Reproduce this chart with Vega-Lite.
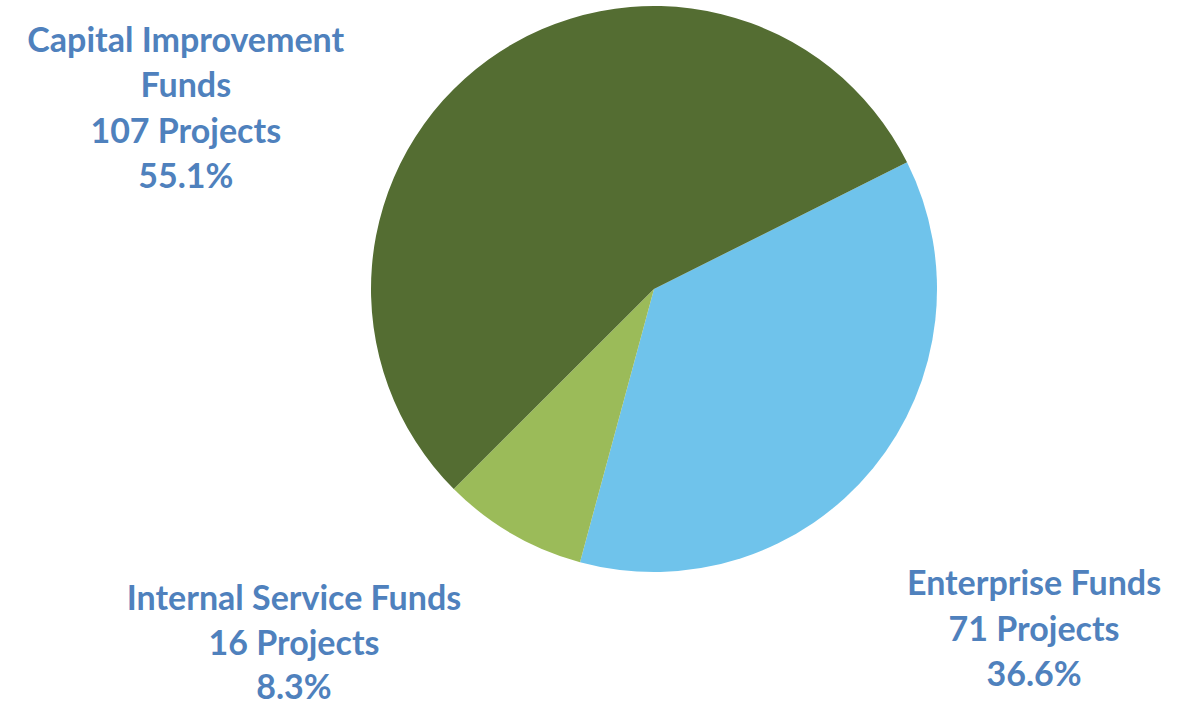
{
  "$schema": "https://vega.github.io/schema/vega-lite/v6.json",
  "width": 1000,
  "height": 578,
  "autosize": {"type": "none"},
  "padding": {"left": 154, "top": 0, "right": 41, "bottom": 129},
  "background": "white",
  "config": {"view": {"stroke": null}},
  "data": {
    "values": [
      {"fund": "Enterprise Funds", "projects": 71, "share": 36.6, "label": "Enterprise Funds\n71 Projects\n36.6%"},
      {"fund": "Internal Service Funds", "projects": 16, "share": 8.3, "label": "Internal Service Funds\n16 Projects\n8.3%"},
      {"fund": "Capital Improvement Funds", "projects": 107, "share": 55.1, "label": "Capital Improvement\nFunds\n107 Projects\n55.1%"}
    ]
  },
  "transform": [{"stack": "share", "groupby": [], "as": ["s0", "s1"]}],
  "layer": [
    {
      "mark": {"type": "arc", "outerRadius": 283},
      "encoding": {
        "theta": {"field": "s0", "type": "quantitative", "stack": null, "scale": {"domain": [0, 100], "range": [1.1065, 7.3897]}},
        "theta2": {"field": "s1"},
        "color": {
          "field": "fund",
          "type": "nominal",
          "scale": {
            "domain": ["Enterprise Funds", "Internal Service Funds", "Capital Improvement Funds"],
            "range": ["#6FC3EB", "#9BBB59", "#546D32"]
          },
          "legend": null
        }
      }
    },
    {
      "transform": [{"filter": "datum.fund === 'Enterprise Funds'"}],
      "mark": {"type": "text", "radius": 283, "dx": 127, "dy": 433, "align": "center", "baseline": "alphabetic", "lineBreak": "\n", "lineHeight": 45.5, "font": "Lato", "fontWeight": "bold", "fontSize": 34, "color": "#4F81BD"},
      "encoding": {
        "theta": {"field": "s0", "type": "quantitative", "stack": null},
        "text": {"field": "label"}
      }
    },
    {
      "transform": [{"filter": "datum.fund === 'Internal Service Funds'"}],
      "mark": {"type": "text", "radius": 283, "dx": -286, "dy": 48, "align": "center", "baseline": "alphabetic", "lineBreak": "\n", "lineHeight": 44.5, "font": "Lato", "fontWeight": "bold", "fontSize": 34, "color": "#4F81BD"},
      "encoding": {
        "theta": {"field": "s0", "type": "quantitative", "stack": null},
        "text": {"field": "label"}
      }
    },
    {
      "transform": [{"filter": "datum.fund === 'Capital Improvement Funds'"}],
      "mark": {"type": "text", "radius": 283, "dx": -268, "dy": -437, "align": "center", "baseline": "alphabetic", "lineBreak": "\n", "lineHeight": 45.5, "font": "Lato", "fontWeight": "bold", "fontSize": 34, "color": "#4F81BD"},
      "encoding": {
        "theta": {"field": "s0", "type": "quantitative", "stack": null},
        "text": {"field": "label"}
      }
    }
  ]
}
